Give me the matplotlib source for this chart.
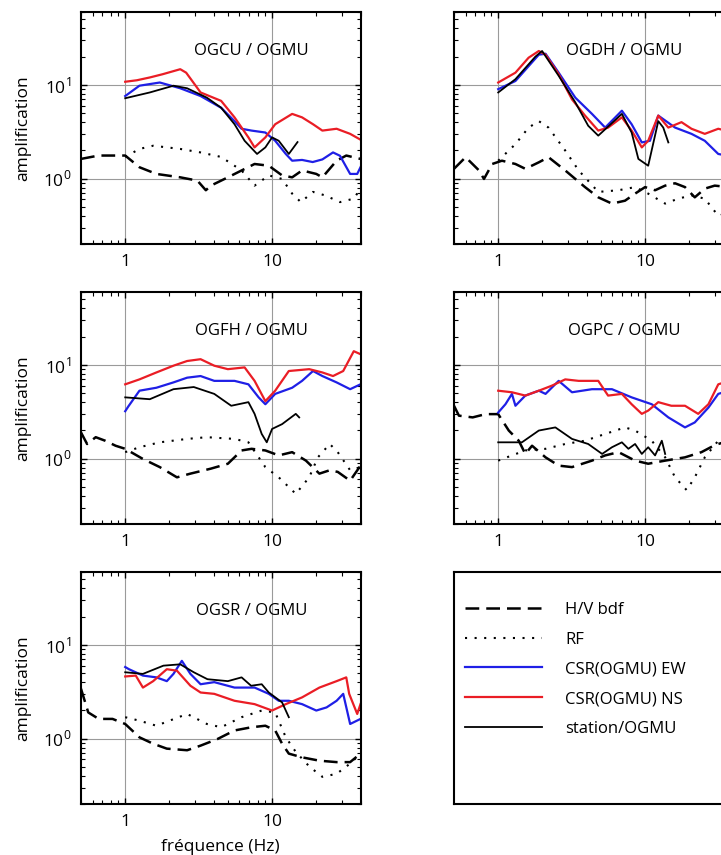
import numpy as np
import matplotlib
matplotlib.use("Agg")
import matplotlib.pyplot as plt
from matplotlib.ticker import LogLocator, FixedLocator, FixedFormatter, NullFormatter

plt.rcParams['font.family'] = ['Open Sans', 'DejaVu Sans']
plt.rcParams['mathtext.fontset'] = 'custom'
plt.rcParams['mathtext.rm'] = 'Open Sans'

# --- données (fréquence Hz, amplification) ---
# OGCU / OGMU
ogcu_hv_f = [0.5, 0.66, 1.0, 1.25, 1.63, 2.37, 3.1, 3.54, 3.83, 5, 6.2, 7.6, 9.5, 11.7, 13.7, 16, 20, 22, 27.5, 32, 40]
ogcu_hv_a = [1.62, 1.76, 1.76, 1.32, 1.12, 1.03, 0.95, 0.75, 0.84, 1.03, 1.22, 1.43, 1.37, 1.08, 1.03, 1.22, 1.12, 1.03, 1.55, 1.76, 1.62]
ogcu_rf_f = [1, 1.25, 1.55, 2.37, 3.26, 4.5, 6.2, 7.6, 9.5, 11.7, 13.7, 15.7, 19, 23, 29, 36, 40]
ogcu_rf_a = [1.7, 2.07, 2.24, 2.07, 1.9, 1.7, 1.22, 0.84, 1.08, 0.99, 0.69, 0.56, 0.72, 0.66, 0.56, 0.61, 0.78]
ogcu_ew_f = [1, 1.25, 1.72, 2.37, 3.26, 4.5, 5.55, 6.2, 7.25, 9, 10.5, 12.4, 13.7, 16, 18.9, 22, 26, 29, 34, 38, 40]
ogcu_ew_a = [7.6, 9.8, 10.6, 9.2, 7.6, 5.7, 4.1, 3.4, 3.25, 3.1, 2.53, 1.83, 1.55, 1.58, 1.5, 1.6, 1.9, 1.75, 1.12, 1.12, 1.32]
ogcu_ns_f = [1, 1.2, 1.47, 1.8, 2.37, 2.6, 3.26, 4.5, 5.55, 6.9, 7.6, 9, 10.5, 13.7, 16, 19, 22, 27.5, 34, 40]
ogcu_ns_a = [10.8, 11.2, 12, 13, 14.7, 13.5, 8.3, 6.75, 4.5, 2.75, 2.15, 2.75, 3.8, 4.9, 4.5, 3.8, 3.25, 3.4, 3.0, 2.6]
ogcu_st_f = [1, 1.47, 2.13, 2.64, 3.6, 4.5, 5.55, 6.5, 7.9, 9, 10, 11.1, 13, 14.9]
ogcu_st_a = [7.2, 8.3, 9.8, 9.2, 7.3, 5.7, 3.8, 2.53, 1.83, 2.15, 2.75, 2.53, 1.83, 2.45]

# OGDH / OGMU
ogdh_hv_f = [0.5, 0.6, 0.74, 0.8, 0.91, 1.06, 1.31, 1.53, 1.89, 2.2, 2.86, 3.9, 4.8, 5.95, 7.3, 8.55, 10, 11.7, 13.7, 16, 18.7, 21.8, 25.5, 29.8, 40]
ogdh_hv_a = [1.27, 1.69, 1.22, 0.99, 1.43, 1.55, 1.43, 1.27, 1.49, 1.69, 1.22, 0.81, 0.63, 0.54, 0.58, 0.69, 0.81, 0.75, 0.84, 0.89, 0.81, 0.63, 0.78, 0.84, 0.8]
ogdh_rf_f = [1, 1.31, 1.61, 1.89, 2.2, 2.86, 3.53, 4.8, 6.6, 8.55, 10.5, 13.7, 16.8, 20.7, 25.5, 31.5, 40]
ogdh_rf_a = [1.55, 2.33, 3.5, 4.1, 3.5, 1.99, 1.22, 0.72, 0.75, 0.81, 0.69, 0.54, 0.61, 0.66, 0.61, 0.4, 0.45]
ogdh_ew_f = [1, 1.31, 1.89, 2.1, 2.58, 3.35, 4.35, 5.35, 6.95, 8.1, 9.5, 10.8, 12.3, 16, 20.7, 25.5, 31.5, 40]
ogdh_ew_a = [9, 11, 21, 21.5, 13.5, 7.3, 4.9, 3.5, 5.3, 3.8, 2.43, 2.53, 4.7, 3.5, 3.0, 2.53, 1.83, 1.7]
ogdh_ns_f = [1, 1.31, 1.61, 1.89, 2.1, 2.58, 3.18, 3.9, 4.8, 5.6, 6.95, 8.1, 9.5, 10.5, 12.3, 14.4, 17.7, 20.7, 25.5, 31.5, 40]
ogdh_ns_a = [10.6, 13.5, 19.5, 23, 21, 13, 7, 4.7, 3.25, 3.5, 4.5, 3.25, 2.15, 2.53, 4.7, 3.5, 4.0, 3.4, 3.0, 3.4, 3.1]
ogdh_st_f = [1, 1.31, 1.79, 1.99, 2.58, 3.35, 4.1, 4.8, 6.95, 8.1, 9, 10.5, 12.3, 13.3, 14.4]
ogdh_st_a = [8.3, 11.5, 20, 23, 12.5, 6.5, 3.66, 2.87, 4.9, 3.1, 1.62, 1.37, 4.1, 3.5, 2.43]

# OGFH / OGMU
ogfh_hv_f = [0.5, 0.55, 0.63, 0.73, 0.86, 1.0, 1.32, 1.72, 2.25, 2.78, 3.83, 5, 6.2, 7.25, 9, 11.1, 13.7, 17, 21, 24.7, 28, 34, 40]
ogfh_hv_a = [1.9, 1.43, 1.69, 1.55, 1.37, 1.27, 0.99, 0.81, 0.63, 0.69, 0.78, 0.88, 1.22, 1.27, 1.22, 1.08, 1.17, 0.95, 0.69, 0.75, 0.72, 0.58, 0.84]
ogfh_rf_f = [1, 1.25, 1.72, 2.64, 3.6, 5.55, 6.9, 9, 11.1, 14.5, 17.9, 20.5, 24.7, 28, 34, 40]
ogfh_rf_a = [1.17, 1.32, 1.49, 1.62, 1.69, 1.62, 1.49, 0.81, 0.63, 0.42, 0.63, 1.03, 1.43, 1.17, 0.75, 0.81]
ogfh_ew_f = [1, 1.05, 1.25, 1.63, 2.13, 2.64, 3.26, 4.04, 5.55, 6.9, 8.1, 9, 10.5, 13.7, 16, 19, 22, 27.5, 34, 40]
ogfh_ew_a = [3.2, 3.6, 5.3, 5.7, 6.5, 7.3, 7.6, 6.75, 6.75, 6.2, 4.5, 3.8, 4.9, 5.7, 6.75, 8.6, 7.6, 6.5, 5.5, 6.2]
ogfh_ns_f = [1, 1.25, 1.63, 2.13, 2.64, 3.26, 4.04, 5, 6.5, 7.6, 9, 10.5, 13, 17.9, 22, 26, 30.5, 36, 40]
ogfh_ns_a = [6.2, 7, 8.3, 9.8, 11, 11.5, 9.8, 9, 9.4, 6.75, 4.1, 5.3, 8.6, 9, 8.3, 7.6, 8.6, 14, 13]
ogfh_st_f = [1, 1.47, 2.13, 2.93, 4.04, 5.27, 6.9, 7.6, 8.5, 9.2, 10, 11.7, 14.5, 15.3]
ogfh_st_a = [4.5, 4.3, 5.5, 5.8, 4.9, 3.66, 4.0, 3.0, 1.83, 1.49, 2.07, 2.33, 3.0, 2.75]

# OGPC / OGMU
ogpc_hv_f = [0.5, 0.54, 0.67, 0.82, 1.0, 1.18, 1.38, 1.53, 1.7, 2.1, 2.58, 3.18, 4.35, 5.35, 6.6, 8.55, 10.5, 13.7, 18.7, 24.2, 28, 31.5, 40]
ogpc_hv_a = [3.66, 2.87, 2.75, 2.98, 2.98, 1.99, 1.55, 1.12, 1.37, 1.03, 0.84, 0.81, 0.95, 1.08, 1.17, 0.95, 0.88, 0.95, 1.03, 1.17, 1.32, 1.43, 1.6]
ogpc_rf_f = [1, 1.24, 1.53, 2.1, 2.86, 3.9, 5.35, 7.3, 8.55, 11.1, 13.7, 16, 19.2, 21.8, 25.5, 31.5, 40]
ogpc_rf_a = [0.95, 1.08, 1.22, 1.27, 1.43, 1.55, 1.83, 2.15, 1.99, 1.55, 1.03, 0.63, 0.46, 0.63, 1.03, 1.55, 1.8]
ogpc_ew_f = [1, 1.12, 1.24, 1.31, 1.53, 1.89, 2.1, 2.58, 3.18, 4.35, 5.95, 8.1, 11.1, 14.4, 18.7, 21.8, 27, 31.5, 40]
ogpc_ew_a = [3.1, 3.8, 4.9, 3.66, 4.7, 5.3, 4.9, 6.75, 5.1, 5.5, 5.5, 4.5, 3.8, 2.75, 2.15, 2.43, 3.5, 4.9, 5.5]
ogpc_ns_f = [1, 1.24, 1.53, 1.89, 2.32, 2.86, 3.53, 4.8, 5.6, 6.95, 8.1, 9.5, 10.5, 12.3, 15.1, 18.7, 23, 27, 31.5, 40]
ogpc_ns_a = [5.3, 5.1, 4.7, 5.3, 6, 7.0, 6.75, 6.75, 4.7, 4.9, 3.8, 3.0, 3.25, 4.0, 3.66, 3.66, 3.0, 3.8, 6.2, 7]
ogpc_st_f = [1, 1.45, 1.89, 2.45, 3.18, 4.1, 5.1, 5.95, 6.95, 7.7, 8.55, 9.5, 10.5, 11.7, 13, 13.7]
ogpc_st_a = [1.49, 1.49, 1.99, 2.15, 1.62, 1.43, 1.12, 1.32, 1.49, 1.27, 1.43, 1.12, 1.32, 1.08, 1.55, 1.12]

# OGSR / OGMU
ogsr_hv_f = [0.5, 0.56, 0.66, 0.82, 1.0, 1.25, 1.55, 1.92, 2.64, 3.26, 4.26, 5.55, 7.25, 9, 10.5, 11.7, 13, 16, 21, 27.5, 34, 40]
ogsr_hv_a = [3.4, 1.9, 1.62, 1.62, 1.43, 1.03, 0.88, 0.78, 0.75, 0.84, 0.99, 1.22, 1.32, 1.37, 1.22, 0.88, 0.69, 0.63, 0.58, 0.56, 0.56, 0.69]
ogsr_rf_f = [1, 1.25, 1.63, 2.0, 2.64, 3.6, 4.5, 6.2, 8.5, 10.5, 12.4, 14.5, 18, 22, 27.5, 34, 40]
ogsr_rf_a = [1.69, 1.55, 1.37, 1.55, 1.83, 1.43, 1.32, 1.69, 1.99, 1.9, 1.03, 0.72, 0.5, 0.39, 0.42, 0.54, 0.69]
ogsr_ew_f = [1, 1.06, 1.32, 1.63, 1.92, 2.13, 2.43, 2.78, 3.26, 4.04, 5.55, 7.6, 9.5, 11.1, 13, 16, 20, 23.5, 27.5, 30.5, 34, 40]
ogsr_ew_a = [5.8, 5.5, 4.7, 4.5, 4.1, 4.9, 6.75, 4.9, 3.8, 4.0, 3.5, 3.5, 3.0, 2.53, 2.53, 2.33, 1.99, 2.15, 2.53, 3.0, 1.43, 1.62]
ogsr_ns_f = [1, 1.18, 1.32, 1.55, 1.92, 2.25, 2.78, 3.26, 4.04, 5.55, 7.6, 10, 12.4, 16, 21, 27.5, 32, 33.5, 38, 40]
ogsr_ns_a = [4.6, 4.7, 3.5, 4.1, 5.5, 5.3, 3.66, 3.1, 3.0, 2.53, 2.33, 1.99, 2.33, 2.75, 3.5, 4.1, 4.5, 3.0, 1.83, 2.33]
ogsr_st_f = [1, 1.32, 1.82, 2.37, 2.93, 3.63, 5, 6.2, 7.2, 8.5, 9.5, 11.7, 13]
ogsr_st_a = [5.1, 4.9, 6.0, 6.2, 5.1, 4.3, 4.1, 4.5, 3.66, 3.8, 3.1, 2.43, 1.69]

titles = ["OGCU / OGMU", "OGDH / OGMU", "OGFH / OGMU", "OGPC / OGMU", "OGSR / OGMU"]
panels = [
    (ogcu_hv_f, ogcu_hv_a, ogcu_rf_f, ogcu_rf_a, ogcu_ew_f, ogcu_ew_a, ogcu_ns_f, ogcu_ns_a, ogcu_st_f, ogcu_st_a),
    (ogdh_hv_f, ogdh_hv_a, ogdh_rf_f, ogdh_rf_a, ogdh_ew_f, ogdh_ew_a, ogdh_ns_f, ogdh_ns_a, ogdh_st_f, ogdh_st_a),
    (ogfh_hv_f, ogfh_hv_a, ogfh_rf_f, ogfh_rf_a, ogfh_ew_f, ogfh_ew_a, ogfh_ns_f, ogfh_ns_a, ogfh_st_f, ogfh_st_a),
    (ogpc_hv_f, ogpc_hv_a, ogpc_rf_f, ogpc_rf_a, ogpc_ew_f, ogpc_ew_a, ogpc_ns_f, ogpc_ns_a, ogpc_st_f, ogpc_st_a),
    (ogsr_hv_f, ogsr_hv_a, ogsr_rf_f, ogsr_rf_a, ogsr_ew_f, ogsr_ew_a, ogsr_ns_f, ogsr_ns_a, ogsr_st_f, ogsr_st_a),
]
labels = ["H/V bdf", "RF", "CSR(OGMU) EW", "CSR(OGMU) NS", "station/OGMU"]

BLUE = '#1f1fe6'
RED = '#ea1d25'

# --- mise en page (fraction de figure) ---
W, H = 721, 855
col_x = [81 / W, 454 / W]
ax_w = 279.5 / W
row_top = [12, 292, 572]
ax_h = 232 / H

fig = plt.figure(figsize=(W / 100, H / 100), dpi=100)


def make_axes(col, row):
    top = row_top[row]
    return fig.add_axes([col_x[col], 1 - (top + 232) / H, ax_w, ax_h])


positions = [(0, 0), (1, 0), (0, 1), (1, 1), (0, 2)]
handles = None
for k, (col, row) in enumerate(positions):
    ax = make_axes(col, row)
    hv_f, hv_a, rf_f, rf_a, ew_f, ew_a, ns_f, ns_a, st_f, st_a = panels[k]
    l1, = ax.plot(hv_f, hv_a, color='black', lw=1.8, linestyle=(0, (5.5, 2.8)))
    l2, = ax.plot(rf_f, rf_a, color='black', lw=1.5, linestyle=(0, (1, 3.6)))
    l3, = ax.plot(ew_f, ew_a, color=BLUE, lw=1.6)
    l4, = ax.plot(ns_f, ns_a, color=RED, lw=1.6)
    l5, = ax.plot(st_f, st_a, color='black', lw=1.3)
    handles = [l1, l2, l3, l4, l5]

    ax.set_xscale('log')
    ax.set_yscale('log')
    ax.set_xlim(0.5, 40)
    ax.set_ylim(0.2, 60)
    ax.xaxis.set_major_locator(FixedLocator([1, 10]))
    ax.xaxis.set_major_formatter(FixedFormatter(['1', '10']))
    ax.xaxis.set_minor_locator(LogLocator(base=10, subs=np.arange(2, 10)))
    ax.xaxis.set_minor_formatter(NullFormatter())
    ax.yaxis.set_major_locator(FixedLocator([1, 10]))
    ax.yaxis.set_major_formatter(FixedFormatter([r'$10^{0}$', r'$10^{1}$']))
    ax.yaxis.set_minor_locator(LogLocator(base=10, subs=np.arange(2, 10)))
    ax.yaxis.set_minor_formatter(NullFormatter())
    ax.grid(True, which='major', color='#9a9a9a', lw=0.8)
    ax.tick_params(which='both', direction='in', top=True, right=True, labelsize=12.5, colors='black')
    ax.tick_params(which='major', length=4, width=1, pad=7)
    ax.tick_params(which='minor', length=3, width=0.8)
    for s in ax.spines.values():
        s.set_linewidth(1.5)
    if col == 1:
        ax.tick_params(labelleft=False)
    else:
        ax.set_ylabel('amplification', fontsize=12.5, labelpad=8)
    ax.text(0.61, 0.83, titles[k], transform=ax.transAxes, ha='center', va='center', fontsize=12)

    if k == 4:
        ax.set_xlabel('fréquence (Hz)', fontsize=12.5, labelpad=7)

# --- cadre de légende ---
lax = make_axes(1, 2)
lax.set_xticks([])
lax.set_yticks([])
for s in lax.spines.values():
    s.set_linewidth(1.5)
fig.legend(handles, labels, loc='upper left', bbox_to_anchor=(465 / W, 1 - 602 / H),
           frameon=False, fontsize=12, handlelength=4.6, handletextpad=1.4,
           labelspacing=0.82, borderpad=0, borderaxespad=0)

fig.savefig('out.png', dpi=100)
